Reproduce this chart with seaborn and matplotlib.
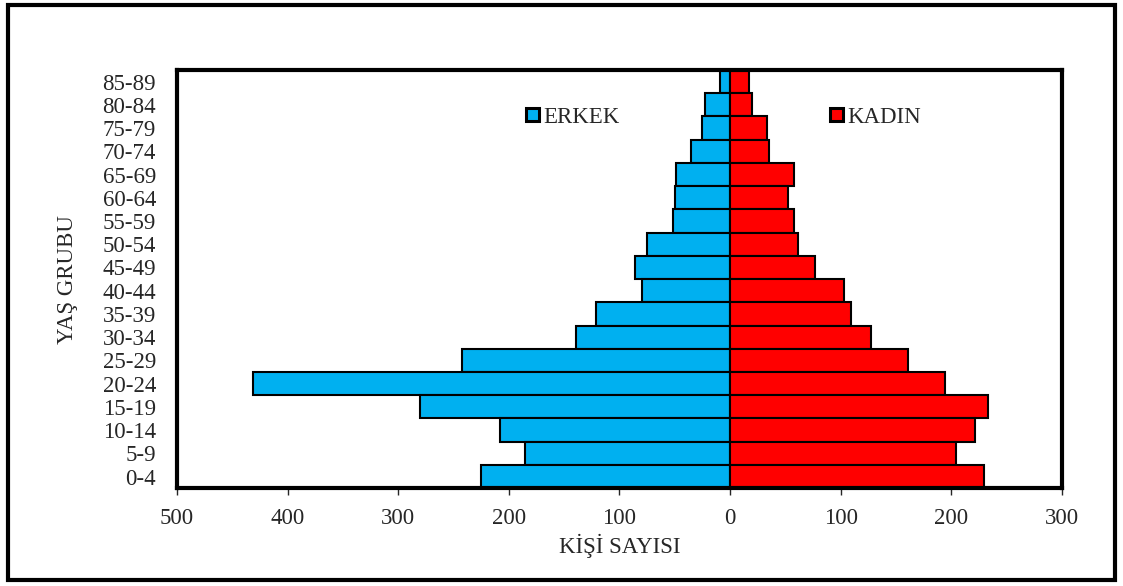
import pandas as pd
import matplotlib
matplotlib.use('Agg')
import matplotlib.pyplot as plt
import matplotlib.patches as mpatches
import seaborn as sns

# ---- data ----
age_groups = ['0-4', '5-9', '10-14', '15-19', '20-24', '25-29', '30-34', '35-39',
              '40-44', '45-49', '50-54', '55-59', '60-64', '65-69', '70-74',
              '75-79', '80-84', '85-89']
erkek = [225, 185, 208, 280, 431, 242, 139, 121, 80, 86, 75, 52, 50, 49, 35, 25, 23, 9]
kadin = [230, 204, 221, 233, 194, 161, 127, 109, 103, 77, 61, 58, 52, 58, 35, 33, 20, 17]
x_ticks = [-500, -400, -300, -200, -100, 0, 100, 200, 300]
x_tick_labels = ['500', '400', '300', '200', '100', '0', '100', '200', '300']

df = pd.DataFrame({'age': age_groups, 'erkek': erkek, 'kadin': kadin})
df['erkek_neg'] = -df['erkek']
order = age_groups[::-1]  # 85-89 on top

sns.set_style('white')
plt.rcParams['font.family'] = ['Liberation Serif', 'DejaVu Serif']
FS = 16.5

fig = plt.figure(figsize=(11.23, 5.86), dpi=100)
ax = fig.add_axes([0.1576, 0.167, 0.788, 0.7135])

# left side (men) and right side (women)
sns.barplot(data=df, x='erkek_neg', y='age', order=order, orient='h', color='#00B0F0',
            saturation=1, width=1.0, edgecolor='black', linewidth=1.5, ax=ax)
sns.barplot(data=df, x='kadin', y='age', order=order, orient='h', color='#FF0000',
            saturation=1, width=1.0, edgecolor='black', linewidth=1.5, ax=ax)

ax.set_xlim(-500, 300)
ax.set_ylim(len(order) - 0.5, -0.5)
ax.set_xticks(x_ticks)
ax.set_xticklabels(x_tick_labels)
ax.tick_params(axis='x', direction='out', length=5, width=1, labelsize=FS, pad=9, bottom=True)
ax.tick_params(axis='y', length=0, labelsize=FS, pad=15)
for s in ax.spines.values():
    s.set_linewidth(3)
    s.set_color('black')

ax.set_xlabel('KİŞİ SAYISI', fontsize=FS, labelpad=4)
ax.set_ylabel('YAŞ GRUBU', fontsize=FS, labelpad=18)

# legend
handles = [mpatches.Patch(facecolor='#00B0F0', edgecolor='black', linewidth=2.2, label='ERKEK'),
           mpatches.Patch(facecolor='#FF0000', edgecolor='black', linewidth=2.2, label='KADIN')]
fig.legend(handles=handles, ncol=2, loc='center left', bbox_to_anchor=(0.4685, 0.80),
           frameon=False, fontsize=FS, handlelength=0.55, handleheight=0.55,
           handletextpad=0.2, columnspacing=9.2, borderpad=0, borderaxespad=0)

# outer frame around the whole chart
frame = mpatches.Rectangle((0.007, 0.010), 0.9857, 0.981, transform=fig.transFigure,
                           fill=False, edgecolor='black', linewidth=3)
fig.patches.append(frame)

plt.savefig('out.png', dpi=100)
